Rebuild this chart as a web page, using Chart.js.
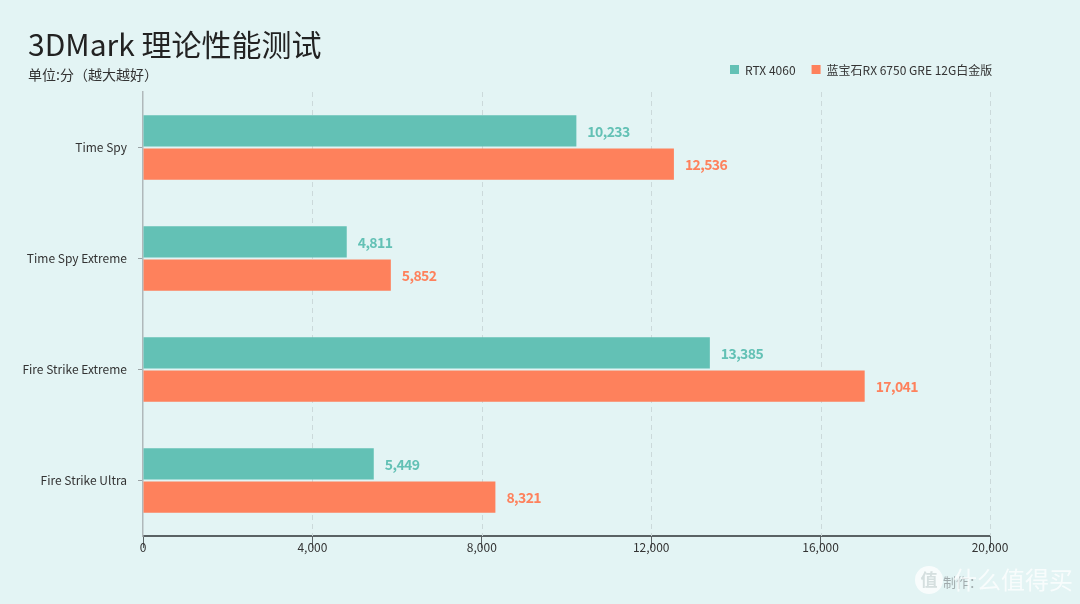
<!DOCTYPE html>
<html>
<head>
<meta charset="utf-8">
<script src="https://cdn.jsdelivr.net/npm/chart.js@4.4.1/dist/chart.umd.min.js"></script>
<style>
  html, body { margin: 0; padding: 0; background: #e3f4f4; }
  #wrap { width: 1080px; height: 604px; position: relative; }
</style>
</head>
<body>
<div id="wrap"><canvas id="myChart" width="1080" height="604"></canvas></div>
<script>
// dados do grafico
var categorias = ['Time Spy', 'Time Spy Extreme', 'Fire Strike Extreme', 'Fire Strike Ultra'];
var rtx4060 = [10233, 4811, 13385, 5449];
var rx6750gre = [12536, 5852, 17041, 8321];
var nomesSeries = ['RTX 4060', '蓝宝石RX 6750 GRE 12G白金版'];
var ticksX = [0, 4000, 8000, 12000, 16000, 20000];

var corVerde = '#63c1b5';
var corLaranja = '#fe815c';
var fonte = '"Noto Sans CJK SC", "Noto Sans", sans-serif';

// titulo, legenda e marca d'agua
var textos = {
	id: 'textos',
	afterDraw: function (chart) {
		var ctx = chart.ctx;
		ctx.save();
		ctx.fillStyle = '#222';
		ctx.textBaseline = 'middle';
		ctx.textAlign = 'left';
		ctx.font = '30px ' + fonte;
		ctx.fillText('3DMark 理论性能测试', 28, 45);
		ctx.font = '14px ' + fonte;
		ctx.fillStyle = '#333';
		ctx.fillText('单位:分（越大越好）', 28, 75);

		// legenda
		ctx.font = '12px ' + fonte;
		var x = 730;
		chart.data.datasets.forEach(function (ds) {
			ctx.fillStyle = ds.backgroundColor;
			ctx.fillRect(x, 65, 9, 9);
			ctx.fillStyle = '#333';
			ctx.fillText(ds.label, x + 15, 70);
			x += 15 + ctx.measureText(ds.label).width + 16;
		});

		// marca d'agua
		ctx.globalAlpha = 0.75;
		ctx.fillStyle = '#ffffff';
		ctx.beginPath();
		ctx.arc(929, 580, 14, 0, Math.PI * 2);
		ctx.fill();
		ctx.fillStyle = '#c8d4d4';
		ctx.font = 'bold 17px ' + fonte;
		ctx.textAlign = 'center';
		ctx.fillText('值', 929, 580);
		ctx.textAlign = 'left';
		ctx.fillStyle = '#8a9294';
		ctx.font = '13px ' + fonte;
		ctx.fillText('制作：', 943, 582);
		ctx.fillStyle = '#ffffff';
		ctx.font = '24px ' + fonte;
		ctx.fillText('什么值得买', 953, 580);
		ctx.restore();
	}
};

// rotulos de valor
var rotulos = {
	id: 'rotulos',
	afterDatasetsDraw: function (chart) {
		var ctx = chart.ctx;
		ctx.save();
		ctx.font = 'bold 14px ' + fonte;
		ctx.letterSpacing = '-0.6px';
		ctx.textAlign = 'left';
		ctx.textBaseline = 'middle';
		chart.data.datasets.forEach(function (ds, i) {
			var meta = chart.getDatasetMeta(i);
			meta.data.forEach(function (bar, j) {
				ctx.fillStyle = ds.backgroundColor;
				ctx.fillText(ds.data[j].toLocaleString('en-US'), bar.x + 11, bar.y + 1);
			});
		});
		ctx.restore();
	}
};

var ctx = document.getElementById('myChart').getContext('2d');
var myChart = new Chart(ctx, {
	type: 'bar',
	data: {
		labels: categorias,
		datasets: [{
			label: nomesSeries[0],
			data: rtx4060,
			backgroundColor: corVerde,
			barPercentage: 0.94,
			categoryPercentage: 0.6
		}, {
			label: nomesSeries[1],
			data: rx6750gre,
			backgroundColor: corLaranja,
			barPercentage: 0.94,
			categoryPercentage: 0.6
		}]
	},
	options: {
		indexAxis: 'y',
		responsive: false,
		animation: false,
		layout: { padding: { left: 0, top: 92, right: 90, bottom: 38 } },
		plugins: {
			legend: { display: false },
			tooltip: { enabled: false }
		},
		scales: {
			x: {
				min: 0,
				max: 20000,
				afterBuildTicks: function (scale) {
					scale.ticks = ticksX.map(function (v) { return { value: v }; });
				},
				afterFit: function (scale) { scale.height = 30; },
				grid: {
					drawOnChartArea: false,
					tickColor: '#5a6264',
					tickLength: 12,
					drawTicks: true
				},
				border: { color: '#5a6264', width: 2 },
				ticks: {
					padding: -8,
					color: '#333',
					font: { family: fonte, size: 12 },
					callback: function (v) { return v.toLocaleString('en-US'); }
				}
			},
			y: {
				afterFit: function (scale) { scale.width = 143; },
				border: { color: '#b0b8ba', width: 1.5 },
				grid: {
					offset: false,
					drawOnChartArea: false,
					tickLength: 5,
					tickColor: '#9aa2a4'
				},
				ticks: {
					padding: 11,
					color: '#333',
					font: { family: fonte, size: 12 }
				}
			}
		}
	},
	plugins: [textos, rotulos, {
		id: 'tracejado',
		beforeDatasetsDraw: function (chart) {
			// linhas verticais tracejadas
			var c = chart.ctx;
			var area = chart.chartArea;
			var sx = chart.scales.x;
			c.save();
			c.strokeStyle = '#cbd9da';
			c.lineWidth = 1;
			c.setLineDash([5, 4]);
			ticksX.forEach(function (v) {
				if (v === 0) return;
				var px = Math.round(sx.getPixelForValue(v)) + 0.5;
				c.beginPath();
				c.moveTo(px, area.top);
				c.lineTo(px, area.bottom);
				c.stroke();
			});
			c.restore();
		}
	}]
});
</script>
</body>
</html>
